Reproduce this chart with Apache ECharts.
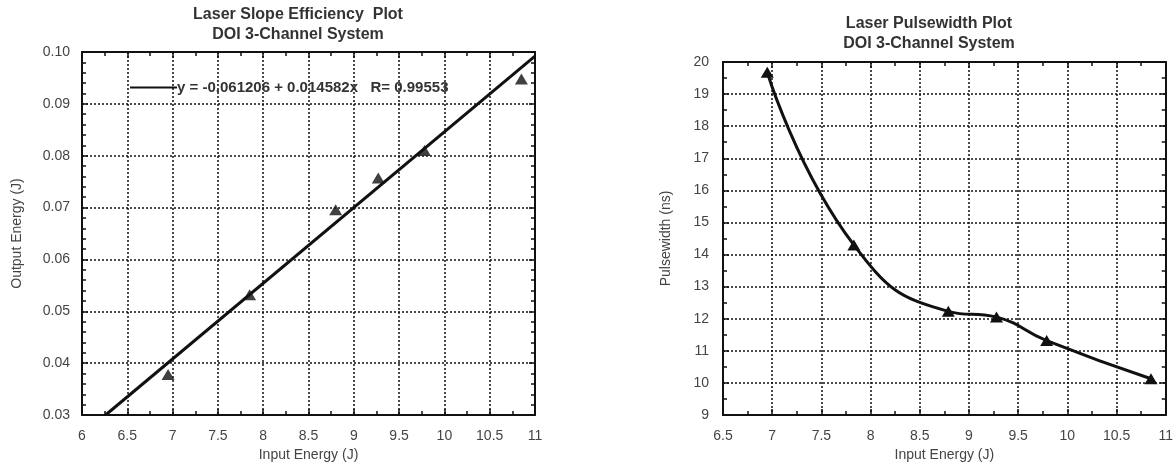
<!DOCTYPE html>
<html>
<head>
<meta charset="utf-8">
<script src="https://cdn.jsdelivr.net/npm/echarts@6/dist/echarts.min.js"></script>
<style>
  html, body { margin: 0; padding: 0; background: #fff; }
  #chart { width: 1176px; height: 467px; }
</style>
</head>
<body>
<div id="chart"></div>
<script>
// slope efficiency (left)
const slopeInput = [6.95, 7.85, 8.8, 9.27, 9.78, 10.85];
const slopeOutput = [0.0378, 0.0532, 0.0696, 0.0757, 0.081, 0.0948];
const fitInput = [6.26, 11];
const fitOutput = [0.0300, 0.0992];
const fitLabel = "y = -0.061206 + 0.014582x   R= 0.99553";

// pulsewidth (right)
const pulseInput = [6.95, 7.83, 8.79, 9.28, 9.79, 10.85];
const pulseWidth = [19.68, 14.3, 12.23, 12.05, 11.32, 10.13];

const FONT = "Liberation Sans";
const INK = "#111";

function pairs(xs, ys) {
  return xs.map((x, i) => [x, ys[i]]);
}

function frameAxis(gridIndex, position, min, max, interval, minorSplit, extra) {
  return Object.assign({
    type: "value",
    gridIndex,
    position,
    min,
    max,
    interval,
    axisLine: { show: true, onZero: false, lineStyle: { color: INK, width: 2 } },
    axisTick: { show: true, inside: true, length: 6, lineStyle: { color: INK, width: 1.5 } },
    minorTick: { show: true, splitNumber: minorSplit, length: 4, lineStyle: { color: INK, width: 1.5 } },
    axisLabel: { show: false },
    splitLine: { show: false },
  }, extra || {});
}

const labelStyle = { show: true, color: "#444", fontFamily: FONT, fontSize: 14 };
const nameStyle = { color: "#444", fontFamily: FONT, fontSize: 14 };
const gridLine = { show: true, lineStyle: { color: INK, width: 1.5, type: [2, 2] } };
const titleStyle = { color: "#333", fontFamily: FONT, fontSize: 16, fontWeight: "bold", lineHeight: 20 };

const chart = echarts.init(document.getElementById("chart"));
chart.setOption({
  animation: false,
  backgroundColor: "#fff",
  title: [
    {
      text: "Laser Slope Efficiency  Plot\nDOI 3-Channel System",
      left: 298,
      top: 5,
      padding: 0,
      textAlign: "center",
      textStyle: titleStyle,
    },
    {
      text: "Laser Pulsewidth Plot\nDOI 3-Channel System",
      left: 929,
      top: 14,
      padding: 0,
      textAlign: "center",
      textStyle: titleStyle,
    },
  ],
  legend: {
    data: [fitLabel],
    left: 125,
    top: 75,
    itemWidth: 47,
    itemHeight: 2,
    itemGap: 0,
    icon: "rect",
    textStyle: { color: "#333", fontFamily: FONT, fontSize: 15, fontWeight: "bold", padding: [0, 0, 0, -5] },
  },
  grid: [
    { left: 82, top: 52, width: 453, height: 363 },
    { left: 723, top: 62, width: 444, height: 356 },
  ],
  xAxis: [
    frameAxis(0, "bottom", 6, 11, 0.5, 2, {
      axisLabel: Object.assign({ margin: 14 }, labelStyle),
      splitLine: gridLine,
      name: "Input Energy (J)",
      nameLocation: "middle",
      nameGap: 33,
      nameTextStyle: nameStyle,
    }),
    frameAxis(0, "top", 6, 11, 0.5, 2),
    frameAxis(1, "bottom", 6.5, 11, 0.5, 2, {
      axisLabel: Object.assign({ margin: 14 }, labelStyle),
      splitLine: gridLine,
      name: "Input Energy (J)",
      nameLocation: "middle",
      nameGap: 33,
      nameTextStyle: nameStyle,
    }),
    frameAxis(1, "top", 6.5, 11, 0.5, 2),
  ],
  yAxis: [
    frameAxis(0, "left", 0.03, 0.1, 0.01, 5, {
      axisLabel: Object.assign({ margin: 12, formatter: (v) => v.toFixed(2) }, labelStyle),
      splitLine: gridLine,
      name: "Output Energy (J)",
      nameLocation: "middle",
      nameGap: 58,
      nameTextStyle: nameStyle,
    }),
    frameAxis(0, "right", 0.03, 0.1, 0.01, 5),
    frameAxis(1, "left", 9, 20, 1, 2, {
      axisLabel: Object.assign({ margin: 14 }, labelStyle),
      splitLine: gridLine,
      name: "Pulsewidth (ns)",
      nameLocation: "middle",
      nameGap: 50,
      nameTextStyle: nameStyle,
    }),
    frameAxis(1, "right", 9, 20, 1, 2),
  ],
  series: [
    {
      name: fitLabel,
      type: "line",
      xAxisIndex: 0,
      yAxisIndex: 0,
      data: pairs(fitInput, fitOutput),
      showSymbol: false,
      lineStyle: { color: INK, width: 3 },
      itemStyle: { color: INK },
      z: 3,
    },
    {
      name: "Measured",
      type: "scatter",
      xAxisIndex: 0,
      yAxisIndex: 0,
      data: pairs(slopeInput, slopeOutput),
      symbol: "triangle",
      symbolSize: [13, 11],
      itemStyle: { color: INK },
      z: 4,
    },
    {
      name: "Pulsewidth",
      type: "line",
      xAxisIndex: 2,
      yAxisIndex: 2,
      data: pairs(pulseInput, pulseWidth),
      smooth: 0.5,
      symbol: "triangle",
      symbolSize: [13, 11],
      showAllSymbol: true,
      lineStyle: { color: INK, width: 3 },
      itemStyle: { color: INK },
      z: 3,
    },
  ],
});
</script>
</body>
</html>
